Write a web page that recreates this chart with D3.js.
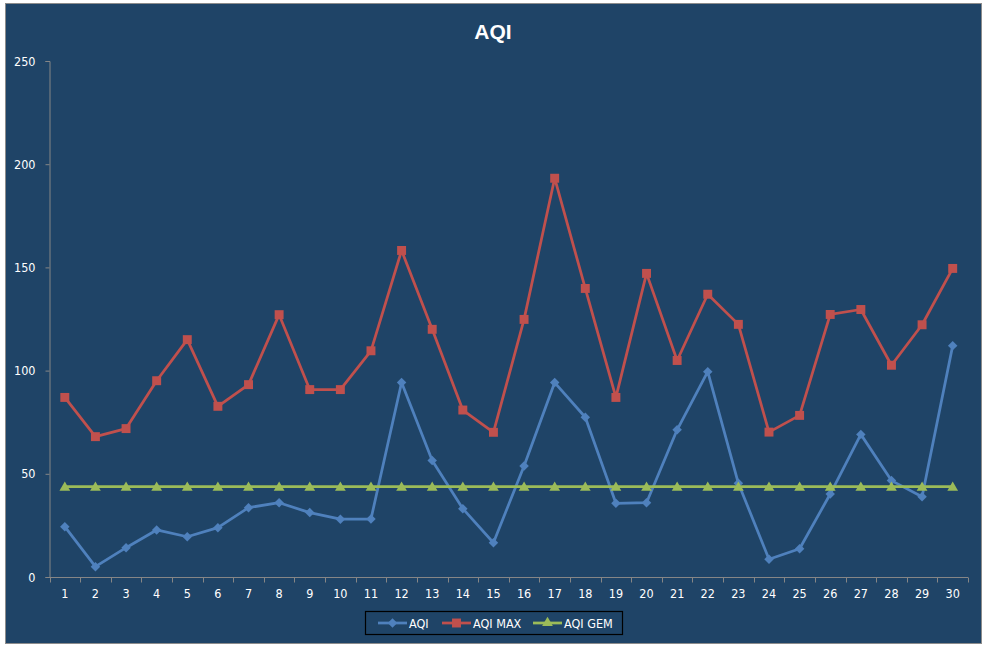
<!DOCTYPE html>
<html>
<head>
<meta charset="utf-8">
<script src="https://cdn.jsdelivr.net/npm/d3@7"></script>
<style>
  html, body { margin: 0; padding: 0; background: #ffffff; }
  svg { display: block; }
</style>
</head>
<body>
<svg id="chart" width="987" height="648"></svg>
<script>
const categories = d3.range(1, 31).map(String);
const aqi    = [24.4, 5.0, 14.2, 22.8, 19.5, 23.9, 33.6, 36.0, 31.2, 28.0, 28.1, 94.2, 56.4, 33.1, 16.6, 53.8, 94.2, 77.4, 35.7, 36.0, 71.3, 99.5, 45.4, 8.6, 13.7, 40.2, 69.1, 46.7, 38.9, 112.1];
const aqiMax = [87.0, 68.0, 71.9, 95.1, 115.0, 82.7, 93.2, 127.1, 90.8, 90.8, 109.6, 158.2, 120.0, 80.9, 70.1, 124.8, 193.2, 139.8, 87.0, 147.1, 104.9, 137.0, 122.4, 70.2, 78.3, 127.2, 129.6, 102.6, 122.2, 149.5];
const aqiGem = categories.map(() => 43.8);
const yTicks = [0, 50, 100, 150, 200, 250];
const seriesNames = ["AQI", "AQI MAX", "AQI GEM"];

(function () {
const svg = d3.select("#chart");
const bg = "#1f4467";
const colors = ["#4f81bd", "#c0504d", "#9bbb59"];
const font = "'DejaVu Sans Condensed', 'DejaVu Sans', Verdana, sans-serif";
const fs = 12.5;

// chart background and frame
svg.append("rect").attr("x", 5.5).attr("y", 3.5).attr("width", 976).attr("height", 640)
  .attr("fill", bg).attr("stroke", "#8c8c8c").attr("stroke-width", 1);

// title
svg.append("text").attr("x", 493).attr("y", 39).attr("text-anchor", "middle")
  .attr("fill", "#ffffff").attr("font-family", "'Liberation Sans Narrow', 'Arial Narrow', Arial, sans-serif")
  .attr("font-weight", "bold").attr("font-size", 21).text("AQI");

const pLeft = 49.5, pRight = 968, pTop = 61, pBottom = 577;
const x = d3.scaleBand().domain(categories).range([pLeft, pRight]);
const y = d3.scaleLinear().domain([0, 250]).range([pBottom, pTop]);

// y axis
const yAxis = svg.append("g").attr("transform", `translate(${pLeft},0)`)
  .call(d3.axisLeft(y).tickValues(yTicks).tickSize(4).tickPadding(10));
yAxis.select(".domain").attr("stroke", "#868686");
yAxis.selectAll(".tick line").attr("stroke", "#868686");
yAxis.selectAll(".tick text").attr("fill", "#ffffff").attr("font-family", font).attr("font-size", fs);

// x axis
const xAxis = svg.append("g").attr("transform", `translate(0,${pBottom + 0.5})`)
  .call(d3.axisBottom(x).tickSize(0).tickPadding(12));
xAxis.select(".domain").attr("stroke", "#868686").attr("d", `M${pLeft},0H${pRight}`);
xAxis.selectAll(".tick text").attr("fill", "#ffffff").attr("font-family", font).attr("font-size", fs);
// category boundary ticks
const bounds = categories.map(c => x(c)).concat([pRight]);
xAxis.selectAll("line.bt").data(bounds).enter().append("line").attr("class", "bt")
  .attr("x1", d => Math.round(d) + 0.5).attr("x2", d => Math.round(d) + 0.5)
  .attr("y1", 0).attr("y2", 5).attr("stroke", "#868686");

const cx = c => x(c) + x.bandwidth() / 2;
const allSeries = [aqi, aqiMax, aqiGem];
const line = d3.line().x((d, i) => cx(categories[i])).y(d => y(d));

// Excel-like square diamond
const squareDiamond = {
  draw(ctx, size) {
    const r = Math.sqrt(size / 2);
    ctx.moveTo(0, -r); ctx.lineTo(r, 0); ctx.lineTo(0, r); ctx.lineTo(-r, 0); ctx.closePath();
  }
};
const shapes = [squareDiamond, d3.symbolSquare, d3.symbolTriangle];
const sizes = [45, 80, 50];

allSeries.forEach((vals, s) => {
  svg.append("path").datum(vals).attr("d", line).attr("fill", "none")
    .attr("stroke", colors[s]).attr("stroke-width", 2.75).attr("stroke-linejoin", "round");
});
allSeries.forEach((vals, s) => {
  svg.append("g").selectAll("path").data(vals).enter().append("path")
    .attr("d", d3.symbol().type(shapes[s]).size(sizes[s]))
    .attr("transform", (d, i) => `translate(${cx(categories[i])},${y(d) + (s === 2 ? 1 : 0)})`)
    .attr("fill", colors[s]);
});

// legend
const lg = svg.append("g");
lg.append("rect").attr("x", 365.5).attr("y", 611.5).attr("width", 257).attr("height", 23)
  .attr("fill", bg).attr("stroke", "#000000").attr("stroke-width", 1.2);
const legendX = [378, 442, 533];
seriesNames.forEach((name, s) => {
  const lx = legendX[s], ly = 623;
  lg.append("line").attr("x1", lx).attr("x2", lx + 29).attr("y1", ly).attr("y2", ly)
    .attr("stroke", colors[s]).attr("stroke-width", 2.75);
  lg.append("path").attr("d", d3.symbol().type(shapes[s]).size(sizes[s]))
    .attr("transform", `translate(${lx + 14.5},${ly})`).attr("fill", colors[s]);
  lg.append("text").attr("x", lx + 31).attr("y", ly + 4.5).attr("fill", "#ffffff")
    .attr("font-family", font).attr("font-size", fs).text(name);
});
})();
</script>
</body>
</html>
